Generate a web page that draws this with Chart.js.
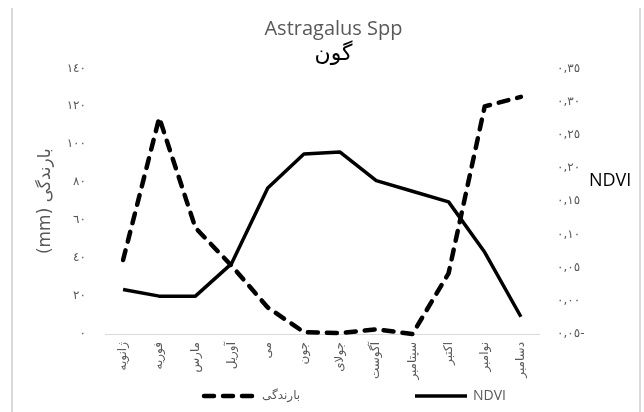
<!DOCTYPE html>
<html lang="fa">
<head>
<meta charset="utf-8">
<title>Astragalus Spp - گون</title>
<script src="https://cdn.jsdelivr.net/npm/chart.js@4.4.1/dist/chart.umd.min.js"></script>
<style>
  html, body { margin: 0; padding: 0; background: #fff; }
  .contenedor { position: relative; width: 644px; height: 412px; }
</style>
</head>
<body>
<div class="contenedor"><canvas id="grafico" width="644" height="412"></canvas></div>
<script>
// --- DATOS ---
const meses = ['ژانویه', 'فوریه', 'مارس', 'آوریل', 'می', 'جون', 'جولای', 'آگوست', 'سپتامبر', 'اکتبر', 'نوامبر', 'دسامبر'];
const lluvia = [39, 114, 56, 36, 14, 1, 0.5, 2.5, 0, 32, 120, 125]; // بارندگی (mm)
const ndvi = [0.017, 0.007, 0.007, 0.056, 0.17, 0.221, 0.224, 0.181, 0.165, 0.149, 0.073, -0.024];
const ticksLluvia = ['٠', '٢٠', '٤٠', '٦٠', '٨٠', '١٠٠', '١٢٠', '١٤٠'];
const ticksNdvi = ['٠,٠٥-', '٠,٠٠', '٠,٠٥', '٠,١٠', '٠,١٥', '٠,٢٠', '٠,٢٥', '٠,٣٠', '٠,٣٥'];

const fuente = "'Open Sans', 'DejaVu Sans', sans-serif";
const fuenteArabe = "'DejaVu Sans', sans-serif"; // el texto persa se ve mejor con DejaVu
const gris = '#595959';

Chart.defaults.font.family = fuente;
Chart.defaults.color = gris;

// --- PLUGIN: marco, título NDVI horizontal y leyenda con líneas ---
const extras = {
    id: 'extras',
    beforeDraw(chart) {
        const ctx = chart.ctx;
        ctx.save();
        ctx.strokeStyle = '#d9d9d9';
        ctx.lineWidth = 2;
        ctx.beginPath();
        ctx.moveTo(12, 8); ctx.lineTo(12, chart.height);
        ctx.moveTo(640, 8); ctx.lineTo(640, chart.height);
        ctx.stroke();
        ctx.restore();
    },
    afterDraw(chart) {
        const ctx = chart.ctx;
        const area = chart.chartArea;
        ctx.save();
        ctx.textBaseline = 'middle';
        ctx.fillStyle = '#000';
        ctx.font = `18px ${fuente}`;
        ctx.fillText('NDVI', area.right + 50, 181);

        const inicios = [204, 415];
        chart.data.datasets.forEach((ds, i) => {
            const x = inicios[i], y = 396;
            ctx.strokeStyle = ds.borderColor;
            ctx.lineWidth = ds.borderWidth;
            ctx.lineCap = ds.borderCapStyle || 'butt';
            ctx.setLineDash(ds.borderDash || []);
            ctx.beginPath();
            ctx.moveTo(x, y);
            ctx.lineTo(x + 52, y);
            ctx.stroke();
            ctx.setLineDash([]);
            ctx.fillStyle = gris;
            ctx.font = i === 0 ? `12px ${fuenteArabe}` : `14px ${fuente}`;
            ctx.fillText(ds.label, x + 58, y);
        });
        ctx.restore();
    }
};

const ctx = document.getElementById('grafico').getContext('2d');
new Chart(ctx, {
    type: 'line',
    data: {
        labels: meses,
        datasets: [{
            label: 'بارندگی',
            data: lluvia,
            yAxisID: 'y',
            borderColor: '#000',
            borderWidth: 4.5,
            borderDash: [10, 9],
            borderCapStyle: 'round',
            borderJoinStyle: 'round',
            pointRadius: 0,
            tension: 0,
            clip: 6
        }, {
            label: 'NDVI',
            data: ndvi,
            yAxisID: 'y1',
            borderColor: '#000',
            borderWidth: 3.5,
            borderJoinStyle: 'round',
            pointRadius: 0,
            tension: 0,
            clip: 6
        }]
    },
    options: {
        responsive: false,
        animation: false,
        devicePixelRatio: 1,
        layout: { padding: { left: 23, right: 0, top: 5, bottom: 28 } },
        plugins: {
            legend: { display: false },
            tooltip: { enabled: false },
            title: {
                display: true,
                text: 'Astragalus Spp',
                color: gris,
                font: { size: 20, weight: 'normal' },
                padding: { top: 12, bottom: 0 }
            },
            subtitle: {
                display: true,
                text: 'گون',
                color: '#000',
                font: { family: fuenteArabe, size: 22, weight: 'normal' },
                padding: { top: 0, bottom: 1 }
            }
        },
        scales: {
            x: {
                offset: true,
                grid: { display: false, drawTicks: false },
                border: { display: true, color: '#d9d9d9', width: 1 },
                ticks: { autoSkip: false, minRotation: 90, maxRotation: 90, padding: 8, font: { family: fuenteArabe, size: 12 }, color: gris },
                afterFit: (escala) => { escala.height = 50; }
            },
            y: {
                position: 'left',
                min: 0,
                max: 140,
                grid: { display: false, drawTicks: false },
                border: { display: false },
                ticks: { stepSize: 20, padding: 19, font: { family: fuenteArabe, size: 12 }, color: gris, callback: (v, i) => ticksLluvia[i] },
                title: { display: true, text: '(mm) بارندگی', color: gris, font: { family: fuenteArabe, size: 17 }, padding: { top: 12, bottom: 0 } },
                afterFit: (escala) => { escala.width = 82; }
            },
            y1: {
                position: 'right',
                min: -0.05,
                max: 0.35,
                grid: { display: false, drawTicks: false },
                border: { display: false },
                ticks: { stepSize: 0.05, padding: 18, font: { family: fuenteArabe, size: 12 }, color: gris, callback: (v, i) => ticksNdvi[i] },
                afterFit: (escala) => { escala.width = 105; }
            }
        }
    },
    plugins: [extras]
});
</script>
</body>
</html>
